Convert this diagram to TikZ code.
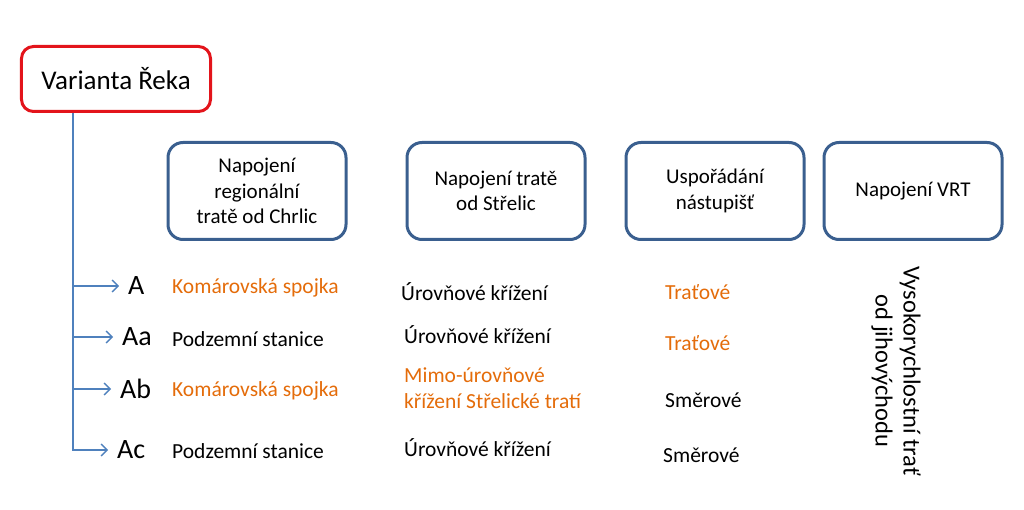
\documentclass[tikz,border=0pt]{standalone}
\usepackage{fontspec}
\setmainfont{Carlito}
\usetikzlibrary{positioning,calc,arrows.meta}
\definecolor{varred}{HTML}{E3141B}
\definecolor{headblue}{HTML}{3A5F8F}
\definecolor{linkblue}{HTML}{4F81BD}
\definecolor{varorange}{HTML}{E46C0A}

\begin{document}
\begin{tikzpicture}[x=1bp,y=-1bp]

	\tikzstyle{rootrect}=[draw=varred, line width=3bp, rectangle, rounded corners=12bp, minimum width=189bp, minimum height=65bp, font=\fontsize{27bp}{32bp}\selectfont];
	\tikzstyle{headrect}=[draw=headblue, line width=3bp, rectangle, rounded corners=15bp, minimum width=178bp, minimum height=97bp, align=center, font=\fontsize{21bp}{25.5bp}\selectfont];
	\tikzstyle{rowlabel}=[anchor=west, inner sep=3bp, font=\fontsize{28bp}{32bp}\selectfont];
	\tikzstyle{cell}=[anchor=west, inner sep=0pt, align=left, font=\fontsize{21.5bp}{26bp}\selectfont];
	\tikzstyle{hl}=[text=varorange];

	\useasboundingbox (0,0) rectangle (1024,510);

    \begin{scope}[>={Straight Barb[length=6bp,width=12bp]}]

    	% titulek a zahlavi sloupcu
    	\node (root) at (116,79) [rootrect]{Varianta Řeka};
    	\node (head_chrlic) at (257,191) [headrect]{Napojení\\regionální\\tratě od Chrlic};
    	\node (head_strelic) [right = 58bp of head_chrlic, headrect]{Napojení tratě\\od Střelic};
    	\node (head_nast) [right = 38bp of head_strelic, headrect]{Uspořádání\\nástupišť};
    	\node (head_vrt) [right = 17bp of head_nast, headrect]{Napojení VRT};

    	% varianty
    	\node (var_a) at (125,286) [rowlabel]{A};
    	\node (var_aa) at (119,337) [rowlabel]{Aa};
    	\node (var_ab) at (117,389) [rowlabel]{Ab};
    	\node (var_ac) at (114,450) [rowlabel]{Ac};

    	\node (chrlic_a) at (172,288) [cell, hl]{Komárovská spojka};
    	\node (chrlic_aa) at (172,339) [cell]{Podzemní stanice};
    	\node (chrlic_ab) at (172,391) [cell, hl]{Komárovská spojka};
    	\node (chrlic_ac) at (172,451) [cell]{Podzemní stanice};

    	\node (strelic_a) at (401,292) [cell]{Úrovňové křížení};
    	\node (strelic_aa) at (404,335) [cell]{Úrovňové křížení};
    	\node (strelic_ab) at (404,388) [cell, hl]{Mimo-úrovňové\\křížení Střelické tratí};
    	\node (strelic_ac) at (404,448) [cell]{Úrovňové křížení};

    	\node (nast_a) at (665,292) [cell, hl]{Traťové};
    	\node (nast_aa) at (665,343) [cell, hl]{Traťové};
    	\node (nast_ab) at (665,400) [cell]{Směrové};
    	\node (nast_ac) at (663,455) [cell]{Směrové};

    	\node (vrt_all) at (896,371) [cell, anchor=center, align=center, rotate=-90, font=\fontsize{24.5bp}{28bp}\selectfont]{Vysokorychlostní trať\\od jihovýchodu};

    	% vetveni
    	\coordinate (trunk) at ([xshift=53bp]root.south west);
    	\draw[linkblue, line width=1.4bp, ->, shorten >=6bp] (trunk) |- (var_ac.west);
    	\foreach \v in {var_a, var_aa, var_ab}
    		\draw[linkblue, line width=1.4bp, ->, shorten >=6bp] (trunk |- \v.west) -- (\v.west);

    \end{scope}
    \end{tikzpicture}
\end{document}
